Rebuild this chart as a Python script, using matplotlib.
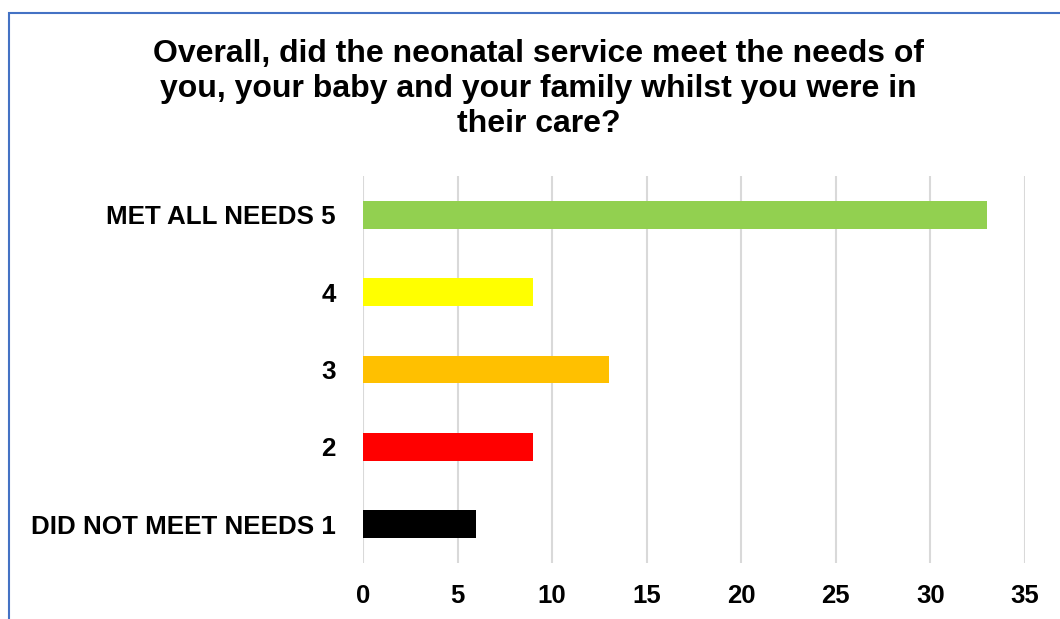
import matplotlib.pyplot as plt
from matplotlib.patches import Rectangle

plt.rcParams['font.family'] = ['Liberation Sans', 'DejaVu Sans']

# bottom to top
labels = ['DID NOT MEET NEEDS 1', '2', '3', '4', 'MET ALL NEEDS 5']
counts = [6, 9, 13, 9, 33]
colors = ['#000000', '#FF0000', '#FFC000', '#FFFF00', '#92D050']
xticks = [0, 5, 10, 15, 20, 25, 30, 35]

fig = plt.figure(figsize=(10.6, 6.19), dpi=100)
ax = fig.add_axes([363/1060, 1-563/619, (1025-363)/1060, (563-176)/619])

ax.barh(range(len(counts)), counts, height=0.36, color=colors, zorder=3)
ax.set_xlim(0, 35)
ax.set_ylim(-0.5, 4.5)
ax.set_xticks(xticks)
ax.set_xticklabels([str(t) for t in xticks], fontsize=18.5, fontweight='bold')
ax.set_yticks(range(len(labels)))
ax.set_yticklabels(labels, fontsize=18.7, fontweight='bold')
ax.tick_params(axis='both', length=0)
ax.tick_params(axis='x', pad=15)
ax.tick_params(axis='y', pad=19.5)
ax.grid(axis='x', color='#d9d9d9', linewidth=1.5, zorder=0)
for s in ax.spines.values():
    s.set_visible(False)

fig.text(0.508, 1-89/619,
         'Overall, did the neonatal service meet the needs of\n'
         'you, your baby and your family whilst you were in\n'
         'their care?',
         ha='center', va='center', fontsize=23, fontweight='bold',
         linespacing=1.2)

# chart area frame
fig.patches.append(Rectangle((9/1060, -0.1), 1.2, 1-13/619+0.1,
                             transform=fig.transFigure, fill=False,
                             edgecolor='#4472C4', linewidth=1.5))

fig.savefig('out.png', dpi=100)
